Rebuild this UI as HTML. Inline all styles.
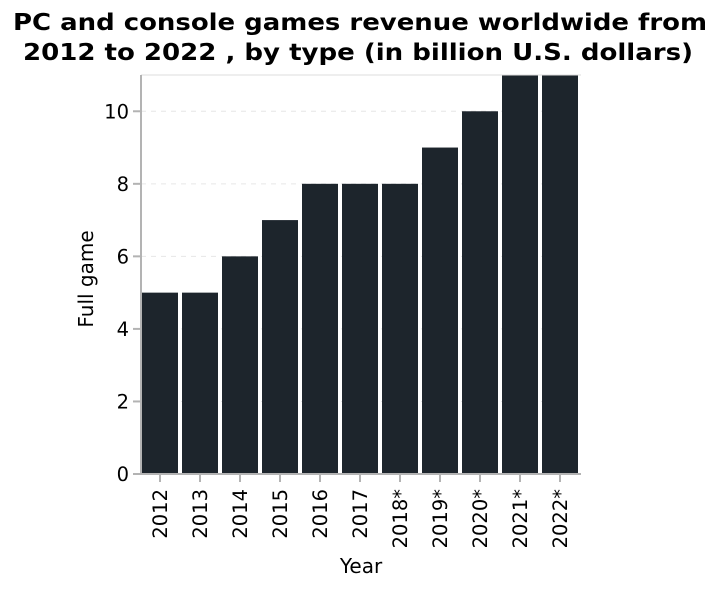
<!DOCTYPE html>
<html><head><meta charset="utf-8"><style>
body{margin:0;background:#fff;}
svg text{font-family:"DejaVu Sans","Liberation Sans",sans-serif;}
</style></head><body>
<svg id="chart" width="720" height="586" xmlns="http://www.w3.org/2000/svg">
<text x="360" y="30" text-anchor="middle" font-size="23" font-weight="bold" fill="#000" textLength="694" lengthAdjust="spacingAndGlyphs">PC and console games revenue worldwide from</text>
<text x="358" y="60" text-anchor="middle" font-size="23" font-weight="bold" fill="#000" textLength="670" lengthAdjust="spacingAndGlyphs">2012 to 2022 , by type (in billion U.S. dollars)</text>
<g id="grid"></g><g id="bars"></g><g id="axes"></g>
<text transform="translate(93,279) rotate(-90)" text-anchor="middle" font-size="20" fill="#000">Full game</text>
<text x="361" y="573" text-anchor="middle" font-size="20" fill="#000">Year</text>
</svg>
<script>
const categories=["2012","2013","2014","2015","2016","2017","2018*","2019*","2020*","2021*","2022*"];
const values=[5,5,6,7,8,8,8,9,10,11,11];
const yTicks=[0,2,4,6,8,10];
(function(){
const L=141,R=581,T=75,B=474,yMax=11;
const ns="http://www.w3.org/2000/svg";
const y=v=>B-(Math.min(v,yMax)/yMax)*(B-T);
const bw=(R-L)/categories.length;
const x=i=>L+i*bw;
function mk(tag,attrs,parent){const e=document.createElementNS(ns,tag);for(const k in attrs)e.setAttribute(k,attrs[k]);document.getElementById(parent).appendChild(e);return e;}
yTicks.forEach(t=>{
 if(t>0){const g=mk('line',{x1:L,x2:R,y1:y(t),y2:y(t),stroke:'#e6e6e6','stroke-dasharray':'5,5'},'grid');
 
 }
 const tk=mk('line',{x1:L-8,x2:L,y1:y(t),y2:y(t),stroke:'#b3b3b3','stroke-width':2},'axes');
 
 
 const tl=mk('text',{x:L-12,y:y(t)+7,'text-anchor':'end','font-size':19.5,fill:'#000'},'axes');
 tl.textContent=t;
 
 
});
categories.forEach((c,i)=>{
 const b=mk('rect',{x:x(i)+1,y:y(values[i]),width:bw-4,height:B-y(values[i]),fill:'#1d252c'},'bars');
 
 
 const cx=x(i)+bw/2-1;
 const tk=mk('line',{x1:cx,x2:cx,y1:B,y2:B+8,stroke:'#b3b3b3','stroke-width':2},'axes');
 
 
 const tl=mk('text',{transform:`translate(${cx+7},${B+15}) rotate(-90)`,'text-anchor':'end','font-size':19.5,fill:'#000'},'axes');
 tl.textContent=c;
 
 
});
const topBorder=mk('line',{x1:L,x2:R,y1:T,y2:T,stroke:'#ddd','stroke-width':1},'axes');


const ya=mk('line',{x1:L,x2:L,y1:T,y2:B+1,stroke:'#b3b3b3','stroke-width':2},'axes');


const xa=mk('line',{x1:L-1,x2:R,y1:B,y2:B,stroke:'#b3b3b3','stroke-width':2},'axes');


})();
</script>
</body></html>
